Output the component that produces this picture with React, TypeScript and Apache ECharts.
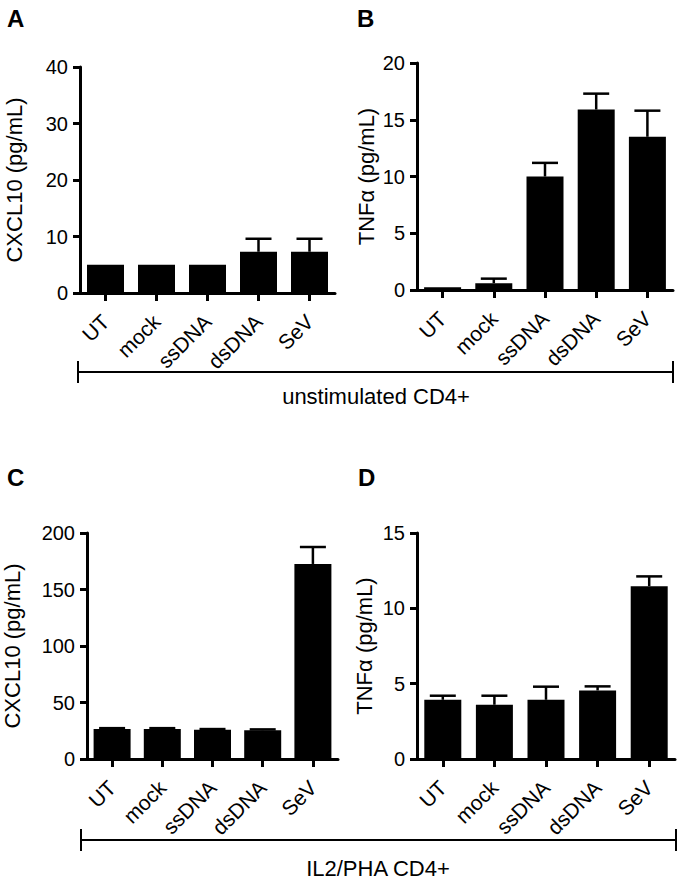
import React, { useEffect, useRef } from "react";
import * as echarts from "echarts";

const categories = ["UT", "mock", "ssDNA", "dsDNA", "SeV"];

const cxclUnstimMean = [5, 5, 5, 7.3, 7.3];
const cxclUnstimErr = [0, 0, 0, 2.3, 2.3];
const tnfUnstimMean = [0.25, 0.6, 10.0, 15.9, 13.5];
const tnfUnstimErr = [0, 0.4, 1.2, 1.4, 2.3];
const cxclIl2Mean = [26.5, 26.5, 25.8, 25.5, 172.6];
const cxclIl2Err = [0.8, 0.8, 0.7, 0.7, 15];
const tnfIl2Mean = [3.93, 3.6, 3.93, 4.55, 11.47];
const tnfIl2Err = [0.27, 0.6, 0.87, 0.27, 0.65];

const yTitles = ["CXCL10 (pg/mL)", "TNF\u03b1 (pg/mL)", "CXCL10 (pg/mL)", "TNF\u03b1 (pg/mL)"];
const yMax = [40, 20, 200, 15];
const yInterval = [10, 5, 50, 5];
const panelLetters = ["A", "B", "C", "D"];
const groupLabels = ["unstimulated CD4+", "IL2/PHA CD4+"];

const FONT = "'Liberation Sans', Arial, Helvetica, sans-serif";

export default function App() {
  const ref = useRef<HTMLDivElement>(null);
  useEffect(() => {
    if (!ref.current) return;
    const chart = echarts.init(ref.current, null, { renderer: "svg" });
    const means = [cxclUnstimMean, tnfUnstimMean, cxclIl2Mean, tnfIl2Mean];
    const errs = [cxclUnstimErr, tnfUnstimErr, cxclIl2Err, tnfIl2Err];
    const grids = [
      { left: 80, top: 67, width: 255, height: 226 },
      { left: 417, top: 63, width: 256, height: 227 },
      { left: 80, top: 533, width: 258, height: 226 },
      { left: 417, top: 533, width: 258, height: 226 },
    ];
    const nameGaps = [55, 40, 64, 42];
    const axisLine = { show: true, lineStyle: { color: "#000", width: 3 } };
    const axisTick = { show: true, length: 8, lineStyle: { color: "#000", width: 3 } };

    const xAxis = grids.map((_, i) => ({
      type: "category",
      gridIndex: i,
      data: categories,
      axisLine,
      axisTick: { ...axisTick, alignWithLabel: true },
      axisLabel: {
        rotate: 45,
        margin: 25,
        color: "#000",
        fontSize: 21,
        fontFamily: FONT,
        interval: 0,
      },
    }));
    const yAxis = grids.map((_, i) => ({
      type: "value",
      gridIndex: i,
      min: 0,
      max: yMax[i],
      interval: yInterval[i],
      splitLine: { show: false },
      axisLine,
      axisTick: { ...axisTick, length: 7 },
      axisLabel: { color: "#000", fontSize: 20, fontFamily: FONT, margin: 12 },
      name: yTitles[i],
      nameLocation: "middle",
      nameGap: nameGaps[i],
      nameTextStyle: { color: "#000", fontSize: 22, fontFamily: FONT },
    }));
    const series: any[] = [];
    grids.forEach((_, i) => {
      series.push({
        type: "bar",
        xAxisIndex: i,
        yAxisIndex: i,
        data: means[i],
        barWidth: 37,
        itemStyle: { color: "#000" },
        z: 2,
      });
      series.push({
        type: "custom",
        xAxisIndex: i,
        yAxisIndex: i,
        z: 3,
        data: means[i].map((m, k) => [k, m, errs[i][k]]),
        renderItem: (_p: any, api: any) => {
          const idx = api.value(0);
          const m = api.value(1);
          const e = api.value(2);
          if (!e) return null;
          const base = api.coord([idx, m]);
          const top = api.coord([idx, m + e]);
          const half = 13;
          const st = { stroke: "#000", lineWidth: 2.5 };
          return {
            type: "group",
            children: [
              { type: "line", shape: { x1: base[0], y1: base[1], x2: top[0], y2: top[1] }, style: st },
              { type: "line", shape: { x1: top[0] - half, y1: top[1], x2: top[0] + half, y2: top[1] }, style: st },
            ],
          };
        },
      });
    });

    const bracket = (x1: number, x2: number, y: number) => [
      { type: "line", shape: { x1, y1: y, x2, y2: y }, style: { stroke: "#000", lineWidth: 2 } },
      { type: "line", shape: { x1, y1: y - 11, x2: x1, y2: y + 11 }, style: { stroke: "#000", lineWidth: 2 } },
      { type: "line", shape: { x1: x2, y1: y - 11, x2, y2: y + 11 }, style: { stroke: "#000", lineWidth: 2 } },
    ];
    const letterPos = [
      [7, 6],
      [357, 6],
      [7, 465],
      [358, 465],
    ];
    const graphic: any[] = [
      ...bracket(78, 673, 372),
      ...bracket(81, 676, 840),
      {
        type: "text",
        x: 376,
        y: 396,
        style: { text: groupLabels[0], fill: "#000", font: `22px ${FONT}`, textAlign: "center", textVerticalAlign: "middle" },
      },
      {
        type: "text",
        x: 378,
        y: 868,
        style: { text: groupLabels[1], fill: "#000", font: `22px ${FONT}`, textAlign: "center", textVerticalAlign: "middle" },
      },
      ...panelLetters.map((t, i) => ({
        type: "text",
        x: letterPos[i][0],
        y: letterPos[i][1],
        style: { text: t, fill: "#000", font: `bold 24px ${FONT}`, textAlign: "left", textVerticalAlign: "top" },
      })),
    ];

    chart.setOption({
      animation: false,
      backgroundColor: "#fff",
      grid: grids.map((g) => ({ ...g, containLabel: false })),
      xAxis,
      yAxis,
      series,
      graphic,
    });
    return () => chart.dispose();
  }, []);
  return (
    <div
      ref={ref}
      style={{ position: "absolute", left: 0, top: 0, width: 685, height: 882, background: "#fff" }}
    />
  );
}
